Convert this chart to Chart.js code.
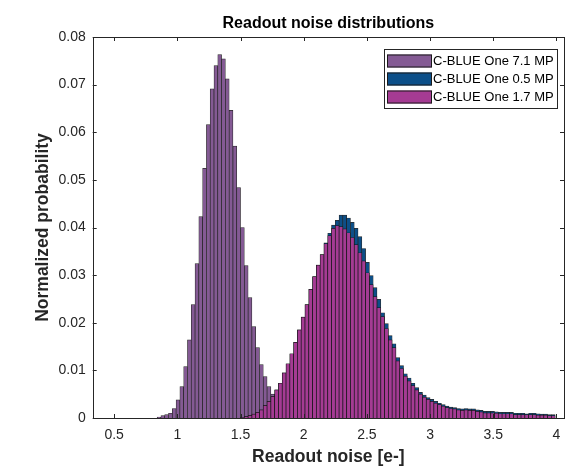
<!DOCTYPE html>
<html>
<head>
<meta charset="utf-8">
<script src="https://cdn.jsdelivr.net/npm/chart.js@4.4.0/dist/chart.umd.min.js"></script>
<style>
  html, body { margin: 0; padding: 0; background: #fff; }
  #wrap { width: 588px; height: 468px; position: relative; }
</style>
</head>
<body>
<div id="wrap"><canvas id="chart"></canvas></div>
<script>
// histogram bins are 0.03 wide; each series lists its bar heights from its first bin centre
var binWidth = 0.03;

var series71Start = 0.855;
var series71 = [0.0002, 0.0005, 0.0007, 0.001, 0.002, 0.0038, 0.0066, 0.0108, 0.0164, 0.0238,
    0.0324, 0.0423, 0.0524, 0.0616, 0.0691, 0.074, 0.0763, 0.0754, 0.0712, 0.0646,
    0.0571, 0.0484, 0.040, 0.032, 0.0253, 0.0192, 0.0148, 0.0112, 0.0087, 0.0066,
    0.005, 0.0037, 0.0027, 0.0019, 0.0013, 0.0009, 0.0006, 0.0004, 0.0002];

var series05Start = 1.515;
var series05 = [0.0001, 0.0003, 0.0005, 0.0008, 0.0012, 0.0017, 0.0026, 0.0035, 0.0045, 0.0059, 0.0073,
    0.0095, 0.0114, 0.0135, 0.0159, 0.0185, 0.0212, 0.0238, 0.027, 0.0297, 0.0321,
    0.0343, 0.0368, 0.0388, 0.0405, 0.0415, 0.0426, 0.0426, 0.042, 0.0411, 0.0398,
    0.0381, 0.0356, 0.0327, 0.0299, 0.0274, 0.0249, 0.0221, 0.0198, 0.0173, 0.0156,
    0.0127, 0.011, 0.0093, 0.0084, 0.0073, 0.0064,
    0.0054, 0.0048, 0.0043, 0.0039, 0.0035, 0.0031, 0.0028, 0.0025, 0.0023, 0.0022,
    0.002, 0.0019, 0.002, 0.0019, 0.0019, 0.0017, 0.0016, 0.0014, 0.0014, 0.0014,
    0.0013, 0.0012, 0.0012, 0.0012, 0.0012, 0.001, 0.001, 0.001, 0.0009, 0.001,
    0.001, 0.0009, 0.0008, 0.0008, 0.0007, 0.0007];

var series17Start = 1.515;
var series17 = [0.0001, 0.0003, 0.0005, 0.0008, 0.0012, 0.0017, 0.0026, 0.0035, 0.0045, 0.0059, 0.0073,
    0.0095, 0.0114, 0.0135, 0.0159, 0.0185, 0.0212, 0.0238, 0.027, 0.0297, 0.0321,
    0.0343, 0.0366, 0.0383, 0.0398, 0.0404, 0.0402, 0.0397, 0.0389, 0.0379, 0.0364,
    0.0347, 0.033, 0.0305, 0.028, 0.0255, 0.0232, 0.0213, 0.0188, 0.0164, 0.0148,
    0.012, 0.0104, 0.0088, 0.0078, 0.0068, 0.0059,
    0.005, 0.0044, 0.0039, 0.0035, 0.0031, 0.0028, 0.0025, 0.0022, 0.002, 0.0019,
    0.0017, 0.0016, 0.0017, 0.0016, 0.0016, 0.0014, 0.0013, 0.0011, 0.0011, 0.0011,
    0.001, 0.0009, 0.0009, 0.0009, 0.0009, 0.0007, 0.0007, 0.0007, 0.0007, 0.0007,
    0.0007, 0.0006, 0.0006, 0.0006, 0.0005, 0.0005];

var seriesLabels = ['C-BLUE One 7.1 MP', 'C-BLUE One 0.5 MP', 'C-BLUE One 1.7 MP'];
var xTickValues = [0.5, 1, 1.5, 2, 2.5, 3, 3.5, 4];
var yTickValues = [0, 0.01, 0.02, 0.03, 0.04, 0.05, 0.06, 0.07, 0.08];

var colors = ['#845a94', '#0c4f89', '#a53b93'];
var fontFamily = '"Liberation Sans", Arial, Helvetica, sans-serif';

function toPoints(start, values) {
    return values.map(function (v, i) {
        return { x: Math.round((start + i * binWidth) * 1000) / 1000, y: v };
    });
}

function barSet(label, color, start, values, order) {
    return {
        label: label,
        data: toPoints(start, values),
        backgroundColor: color,
        borderColor: 'rgba(20,20,20,0.9)',
        borderWidth: 0.7,
        barPercentage: 1,
        categoryPercentage: 1,
        grouped: false,
        order: order
    };
}

// MATLAB-like box with inward ticks on all four sides
var boxPlugin = {
    id: 'boxPlugin',
    afterDatasetsDraw: function (chart) {
        var ctx = chart.ctx, a = chart.chartArea;
        var xs = chart.scales.x, ys = chart.scales.y;
        ctx.save();
        ctx.strokeStyle = '#262626';
        ctx.lineWidth = 1;
        ctx.beginPath();
        xTickValues.forEach(function (v) {
            var px = Math.round(xs.getPixelForValue(v)) + 0.5;
            ctx.moveTo(px, a.bottom); ctx.lineTo(px, a.bottom - 4);
            ctx.moveTo(px, a.top); ctx.lineTo(px, a.top + 4);
        });
        yTickValues.forEach(function (v) {
            var py = Math.round(ys.getPixelForValue(v)) + 0.5;
            ctx.moveTo(a.left, py); ctx.lineTo(a.left + 4, py);
            ctx.moveTo(a.right, py); ctx.lineTo(a.right - 4, py);
        });
        ctx.stroke();
        ctx.strokeRect(Math.round(a.left) + 0.5, Math.round(a.top) + 0.5,
            Math.round(a.right - a.left), Math.round(a.bottom - a.top));
        ctx.restore();
    }
};

// legend box inside the plot, top right
var legendPlugin = {
    id: 'legendPlugin',
    afterDraw: function (chart) {
        var ctx = chart.ctx;
        var x0 = 384.5, y0 = 49.5, w = 173, h = 59;
        ctx.save();
        ctx.fillStyle = '#fff';
        ctx.fillRect(x0, y0, w, h);
        ctx.strokeStyle = '#262626';
        ctx.lineWidth = 1;
        ctx.strokeRect(x0, y0, w, h);
        ctx.font = '13px ' + fontFamily;
        ctx.textBaseline = 'middle';
        seriesLabels.forEach(function (lab, i) {
            var cy = 61 + i * 18;
            ctx.fillStyle = colors[i];
            ctx.fillRect(387, cy - 6.5, 45, 13);
            ctx.strokeStyle = '#1a1a1a';
            ctx.strokeRect(387.5, cy - 6, 44, 12);
            ctx.fillStyle = '#000';
            ctx.fillText(lab, 433, cy + 0.5);
        });
        ctx.restore();
    }
};

var ctx = document.getElementById('chart').getContext('2d');
var chart = new Chart(ctx, {
    type: 'bar',
    data: {
        datasets: [
            barSet(seriesLabels[2], colors[2], series17Start, series17, 0),
            barSet(seriesLabels[1], colors[1], series05Start, series05, 1),
            barSet(seriesLabels[0], colors[0], series71Start, series71, 2)
        ]
    },
    options: {
        responsive: true,
        maintainAspectRatio: false,
        animation: false,
        layout: { padding: { left: 0, right: 24, top: 0, bottom: 0 } },
        scales: {
            x: {
                type: 'linear',
                min: 0.33,
                max: 4.06,
                offset: false,
                grid: { display: false, drawTicks: false },
                border: { display: false },
                afterBuildTicks: function (s) { s.ticks = xTickValues.map(function (v) { return { value: v }; }); },
                afterFit: function (s) { s.height = 50; },
                ticks: {
                    padding: 9,
                    color: '#262626',
                    font: { family: fontFamily, size: 14 },
                    maxRotation: 0,
                    callback: function (v) { return String(v); }
                },
                title: {
                    display: true,
                    text: 'Readout noise [e-]',
                    color: '#262626',
                    font: { family: fontFamily, size: 17.5, weight: 'bold' },
                    padding: { top: 0, bottom: 0 }
                }
            },
            y: {
                min: 0,
                max: 0.08,
                grid: { display: false, drawTicks: false },
                border: { display: false },
                afterBuildTicks: function (s) { s.ticks = yTickValues.map(function (v) { return { value: v }; }); },
                afterFit: function (s) { s.width = 92.7; },
                ticks: {
                    padding: 7,
                    color: '#262626',
                    font: { family: fontFamily, size: 14 },
                    callback: function (v) { return v === 0 ? '0' : v.toFixed(2); }
                },
                title: {
                    display: true,
                    text: 'Normalized probability',
                    color: '#262626',
                    font: { family: fontFamily, size: 17.5, weight: 'bold' },
                    padding: { top: 33, bottom: 0 }
                }
            }
        },
        plugins: {
            legend: { display: false },
            tooltip: { enabled: false },
            title: {
                display: true,
                fullSize: false,
                text: 'Readout noise distributions',
                color: '#000',
                font: { family: fontFamily, size: 16, weight: 'bold' },
                padding: { top: 14, bottom: 3.8 }
            }
        }
    },
    plugins: [boxPlugin, legendPlugin]
});
</script>
</body>
</html>
